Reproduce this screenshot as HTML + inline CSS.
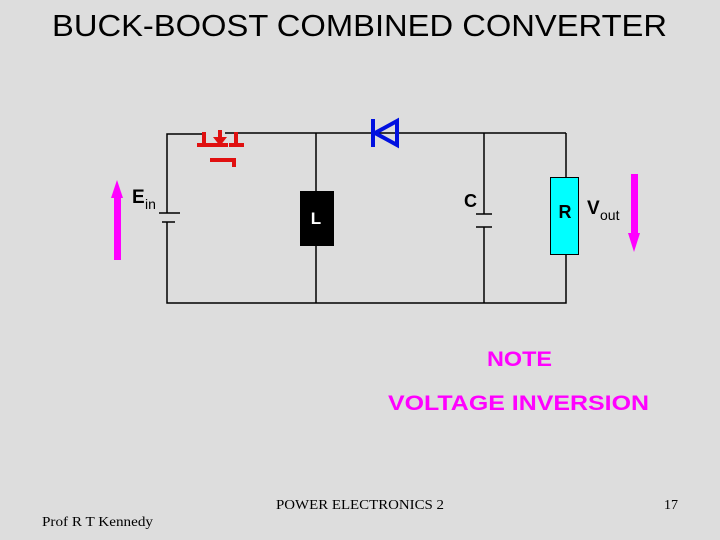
<!DOCTYPE html>
<html><head><style>
html,body{margin:0;padding:0;background:#dcdcdc;}
body{width:720px;height:540px;position:relative;overflow:hidden;}
</style></head><body>
<svg width="720" height="540" style="position:absolute;left:0;top:0">
<rect width="720" height="540" fill="#dddddd"/>
<text x="52" y="36" textLength="615" lengthAdjust="spacingAndGlyphs" font-family="Liberation Sans, sans-serif" font-size="31" fill="#000">BUCK-BOOST COMBINED  CONVERTER</text>
<g stroke="#000" stroke-width="1.5" fill="none">
<polyline points="203,134 167,134 167,213"/>
<polyline points="167,222 167,303 566,303 566,254"/>
<line x1="225" y1="133" x2="566" y2="133"/>
<line x1="566" y1="133" x2="566" y2="177"/>
<line x1="316" y1="133" x2="316" y2="303"/>
<line x1="484" y1="133" x2="484" y2="214"/>
<line x1="484" y1="227" x2="484" y2="303"/>
<line x1="159" y1="213" x2="180" y2="213"/>
<line x1="162" y1="222" x2="175" y2="222"/>
<line x1="476" y1="214" x2="492" y2="214"/>
<line x1="476" y1="227" x2="492" y2="227"/>
</g>
<g stroke="#e01010" stroke-width="4" fill="none">
<line x1="204" y1="132" x2="204" y2="145"/>
<line x1="197" y1="145" x2="213" y2="145"/>
<line x1="220" y1="130" x2="220" y2="140"/>
<line x1="213" y1="145" x2="228" y2="145"/>
<line x1="236" y1="132" x2="236" y2="145"/>
<line x1="229" y1="145" x2="244" y2="145"/>
<polyline points="210,160 234,160 234,167"/>
</g>
<polygon points="213,137 227,137 220,146" fill="#e01010"/>
<g stroke="#0010e0" stroke-width="4" fill="none">
<line x1="373" y1="119" x2="373" y2="147"/>
<polygon points="375,133 397,121 397,145"/>
</g>
<rect x="300" y="191" width="34" height="55" fill="#000"/>
<text x="316" y="224" text-anchor="middle" font-family="Liberation Sans, sans-serif" font-weight="bold" font-size="17" fill="#fff">L</text>
<rect x="550.5" y="177.5" width="28" height="77" fill="#00ffff" stroke="#000" stroke-width="1"/>
<text x="565" y="218" text-anchor="middle" font-family="Liberation Sans, sans-serif" font-weight="bold" font-size="18" fill="#000">R</text>
<text x="464" y="207" font-family="Liberation Sans, sans-serif" font-weight="bold" font-size="18" fill="#000">C</text>
<text x="132" y="203" font-family="Liberation Sans, sans-serif" font-weight="bold" font-size="19" fill="#000">E</text>
<text x="145" y="209" font-family="Liberation Sans, sans-serif" font-size="14" fill="#000">in</text>
<text x="587" y="214" font-family="Liberation Sans, sans-serif" font-weight="bold" font-size="19" fill="#000">V</text>
<text x="600" y="220" font-family="Liberation Sans, sans-serif" font-size="14" fill="#000">out</text>
<rect x="114" y="196" width="7" height="64" fill="#ff00ff"/>
<polygon points="117,180 111,198 123,198" fill="#ff00ff"/>
<rect x="631" y="174" width="7" height="62" fill="#ff00ff"/>
<polygon points="634,252 628,233 640,233" fill="#ff00ff"/>
<text x="487" y="366" textLength="65" lengthAdjust="spacingAndGlyphs" font-family="Liberation Sans, sans-serif" font-weight="bold" font-size="21" fill="#ff00ff">NOTE</text>
<text x="388" y="410" textLength="261" lengthAdjust="spacingAndGlyphs" font-family="Liberation Sans, sans-serif" font-weight="bold" font-size="21" fill="#ff00ff">VOLTAGE INVERSION</text>
<text x="276" y="509" textLength="168" lengthAdjust="spacingAndGlyphs" font-family="Liberation Serif, serif" font-size="14" fill="#000">POWER ELECTRONICS 2</text>
<text x="678" y="509" text-anchor="end" font-family="Liberation Serif, serif" font-size="14" fill="#000">17</text>
<text x="42" y="526" textLength="111" lengthAdjust="spacingAndGlyphs" font-family="Liberation Serif, serif" font-size="14" fill="#000">Prof R T Kennedy</text>
</svg>
</body></html>
